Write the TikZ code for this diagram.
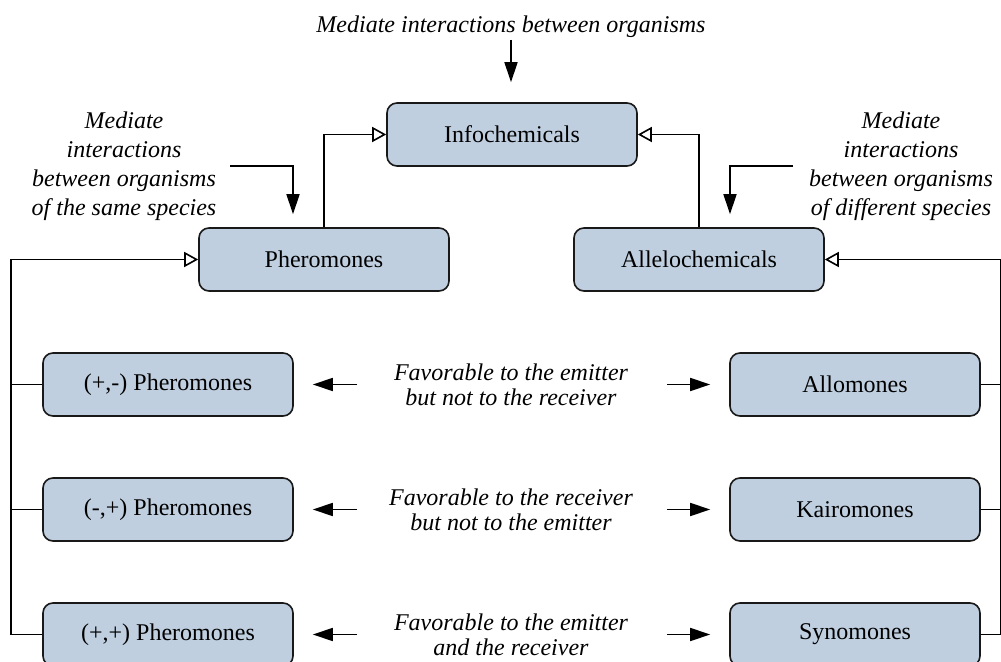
\documentclass[tikz,border=0pt]{standalone}
\usepackage{fontspec}
\setmainfont{Liberation Serif}
\usetikzlibrary{arrows.meta}
\definecolor{boxfill}{RGB}{191,207,224}
\begin{document}
\begin{tikzpicture}[x=0.5pt,y=-0.5pt,
  chem/.style={draw=black!90, line width=0.8pt, fill=boxfill, rounded corners=5pt,
    minimum width=125pt, minimum height=31.5pt, inner sep=0pt,
    font=\fontsize{12}{14}\selectfont},
  note/.style={align=center, inner sep=0pt, font=\fontsize{12}{12.5}\selectfont\itshape},
  side/.style={align=center, inner sep=0pt, font=\fontsize{12}{14.5}\selectfont\itshape},
  link/.style={line width=0.8pt},
  push/.style={link, -{Triangle[length=10pt,width=6.5pt]}},
  feed/.style={link, -{Triangle[open,length=7pt,width=7.5pt]}}]
\useasboundingbox (0,0) rectangle (1001,662);
\clip (0,0) rectangle (1001,662);

% boxes
\node[chem] (info)   at (512,134.5) {Infochemicals};
\node[chem] (pher)   at (324,259.5) {Pheromones};
\node[chem] (allelo) at (699,259.5) {Allelochemicals};
\node[chem] (pm1) at (168,384.5) {(+,-) Pheromones};
\node[chem] (pm2) at (168,509.5) {(-,+) Pheromones};
\node[chem] (pm3) at (168,634.5) {(+,+) Pheromones};
\node[chem] (allo) at (855,384.5) {Allomones};
\node[chem] (kair) at (855,509.5) {Kairomones};
\node[chem] (syn)  at (855,634.5) {Synomones};

% notes
\node[note] (ttop) at (511,27) {Mediate interactions between organisms};
\node[side] (tleft) at (124,166) {Mediate\\interactions\\between organisms\\of the same species};
\node[side] (tright) at (901,166) {Mediate\\interactions\\between organisms\\of different species};
\node[note] (n1) at (511,384.5) {Favorable to the emitter\\but not to the receiver};
\node[note] (n2) at (511,509.5) {Favorable to the receiver\\but not to the emitter};
\node[note] (n3) at (511,634.5) {Favorable to the emitter\\and the receiver};

% input arrows
\coordinate (topin) at (511,40);
\draw[push, shorten >=10pt] (topin) -- (topin |- info.north);
\coordinate (lin) at (230,166);
\draw[push] (lin) -| ([xshift=-15.5pt,yshift=6.5pt]pher.north);
\coordinate (rin) at (793,166);
\draw[push] (rin) -| ([xshift=15.5pt,yshift=6.5pt]allelo.north);

% hierarchy
\draw[feed] (pher.north) |- (info.west);
\draw[feed] (allelo.north) |- (info.east);
\draw[link] (pm1.west) -- ++(-31,0);
\draw[link] (pm2.west) -- ++(-31,0);
\draw[feed] (pm3.west) -- ++(-31,0) |- (pher.west);
\draw[link] (allo.east) -- ++(20,0);
\draw[link] (kair.east) -- ++(20,0);
\draw[feed] (syn.east) -- ++(19.5,0) |- (allelo.east);

% side arrows
\foreach \i/\y/\l/\r in {1/384.5/pm1/allo, 2/509.5/pm2/kair, 3/634.5/pm3/syn}{
  \coordinate (la\i) at (357,\y);
  \coordinate (ra\i) at (667,\y);
  \draw[push] (la\i) -- ([xshift=9.5pt]\l.east);
  \draw[push] (ra\i) -- ([xshift=-9.5pt]\r.west);
}
\end{tikzpicture}
\end{document}
